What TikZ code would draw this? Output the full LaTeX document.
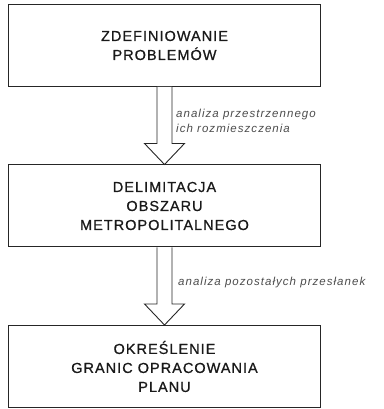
\documentclass[tikz,border=0pt]{standalone}
\usepackage{fontspec}
\setmainfont{Liberation Sans}
\usepackage{tikz}
\usetikzlibrary{calc}

\tikzset{
	stage/.style={draw=black!85, line width=1pt, minimum width=312pt, minimum height=82pt,
		align=center, inner sep=0pt, text=black!90,
		font=\fontsize{14.5}{19}\selectfont\addfontfeature{LetterSpace=7,FakeBold=0.8}},
	fat/.style={draw=black!85, line width=0.9pt, fill=white, line join=miter},
	note/.style={anchor=west, align=left, text=black!70, inner sep=0pt,
		font=\fontsize{11.5}{15}\selectfont\itshape\addfontfeature{LetterSpace=9}}
}

\begin{document}
\begin{tikzpicture}[x=1pt,y=1pt]
	
	\useasboundingbox (0,0) rectangle (383,409);
	
	\node[stage] (zdef) at (164.5,363.5) {ZDEFINIOWANIE\\PROBLEMÓW};
	\node[stage] (delim) at (164.5,203) {DELIMITACJA\\OBSZARU\\METROPOLITALNEGO};
	\node[stage] (granice) at (164.5,42.5) {OKREŚLENIE\\GRANIC OPRACOWANIA\\PLANU};
	
	% hollow arrows between the boxes
	\draw[fat] ($(zdef.south)+(-7.5,0)$) -- ($(delim.north)+(-7.5,21)$) -- ($(delim.north)+(-20,21)$)
		-- (delim.north) -- ($(delim.north)+(20,21)$) -- ($(delim.north)+(7.5,21)$) -- ($(zdef.south)+(7.5,0)$);
	\draw[fat] ($(delim.south)+(-7.5,0)$) -- ($(granice.north)+(-7.5,21)$) -- ($(granice.north)+(-20,21)$)
		-- (granice.north) -- ($(granice.north)+(20,21)$) -- ($(granice.north)+(7.5,21)$) -- ($(delim.south)+(7.5,0)$);
	
	\node[note] (lab1) at (176,288.5) {analiza przestrzennego\\ich rozmieszczenia};
	\node[note] (lab2) at (178,126) {analiza pozostałych przesłanek};
	
\end{tikzpicture}
\end{document}
